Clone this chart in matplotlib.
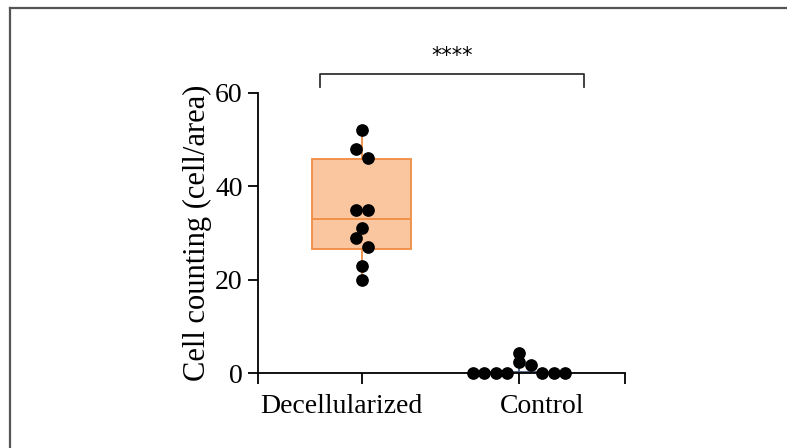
import numpy as np
import matplotlib.pyplot as plt
from matplotlib.lines import Line2D

plt.rcParams['font.family'] = ['Liberation Serif', 'DejaVu Serif']

groups = ['Decellularized', 'Control']
decell = [52, 48, 46, 35, 35, 31, 29, 27, 23, 20]
control = [0, 0, 0, 0, 4.3, 2.3, 1.7, 0, 0, 0]
box_stats = {'Decellularized': (20, 26.6, 33.1, 45.8, 52), 'Control': (0, 0, 0, 0.3, 4.3)}
box_face = {'Decellularized': '#f9c6a0', 'Control': 'none'}
box_edge = {'Decellularized': '#f08c44', 'Control': '#4a5f80'}
yticks = [0, 20, 40, 60]
signif = '****'

pos = [1, 2]
xlim = (0.338, 2.675)
label_x = [0.866, 2.146]
bracket = (0.732, 2.414)

fig = plt.figure(figsize=(7.87, 4.48), dpi=100)
ax = fig.add_axes([258 / 787, 75 / 448, 367 / 787, 280 / 448])
ax.set_xlim(*xlim)
ax.set_ylim(0, 60)

# figure frame (top and left only)
fig.add_artist(Line2D([10 / 787, 10 / 787], [0, 1 - 8 / 448], transform=fig.transFigure,
                      color='#555555', lw=1.6))
fig.add_artist(Line2D([10 / 787, 1], [1 - 8 / 448, 1 - 8 / 448], transform=fig.transFigure,
                      color='#555555', lw=1.6))

bw = 0.63
for p, g in zip(pos, groups):
    lo, q1, med, q3, hi = box_stats[g]
    bxp = [{'whislo': lo, 'q1': q1, 'med': med, 'q3': q3, 'whishi': hi, 'fliers': []}]
    ax.bxp(bxp, positions=[p], widths=bw, patch_artist=True, showcaps=False,
           boxprops=dict(facecolor=box_face[g], edgecolor=box_edge[g], lw=1.3),
           medianprops=dict(color=box_edge[g], lw=1.3),
           whiskerprops=dict(color=box_edge[g], lw=1.3), zorder=2)


def swarm(vals, d, scale):
    # prism-like scatter: group values into rows about one dot tall,
    # then spread each row out from the centre
    order = np.argsort(vals, kind='stable')
    rows = []
    for i in order:
        if rows and (vals[i] - vals[rows[-1][0]]) * scale < d:
            rows[-1].append(i)
        else:
            rows.append([i])
    offs = np.zeros(len(vals))
    for row in rows:
        row = sorted(row, key=lambda j: -vals[j])
        n = len(row)
        if n % 2:
            slots = [0]
            for k in range(1, n):
                slots += [k, -k]
        else:
            slots = []
            for k in range(n):
                slots += [-(k + 0.5), k + 0.5]
        for j, s in zip(row, slots):
            offs[j] = s * d
    return offs


px_per_x = 367 / (xlim[1] - xlim[0])
px_per_y = 280 / 60
dot = 11.6
for p, vals in zip(pos, [decell, control]):
    offs = swarm(np.array(vals, float), dot, px_per_y)
    ax.scatter(p + offs / px_per_x, vals, s=66, color='black', zorder=4, clip_on=False)

for s in ['top', 'right']:
    ax.spines[s].set_visible(False)
for s in ['left', 'bottom']:
    ax.spines[s].set_linewidth(1.3)
ax.set_xticks([xlim[0]] + pos + [xlim[1]])
ax.set_xticklabels([])
ax.tick_params(axis='x', length=8, width=1.3)
ax.set_yticks(yticks)
ax.tick_params(axis='y', length=7, width=1.3, labelsize=20, pad=4)
ax.set_ylabel('Cell counting (cell/area)', fontsize=22, labelpad=2.5)

for lx, g in zip(label_x, groups):
    ax.text(lx, -4.4, g, ha='center', va='top', fontsize=20)

ax.plot([bracket[0], bracket[0], bracket[1], bracket[1]], [61.3, 64.1, 64.1, 61.3],
        color='#333333', lw=1.3, clip_on=False)
ax.text((bracket[0] + bracket[1]) / 2, 67.9, signif, ha='center', va='center',
        fontsize=15, family='DejaVu Sans')

fig.savefig('out.png', dpi=100)
